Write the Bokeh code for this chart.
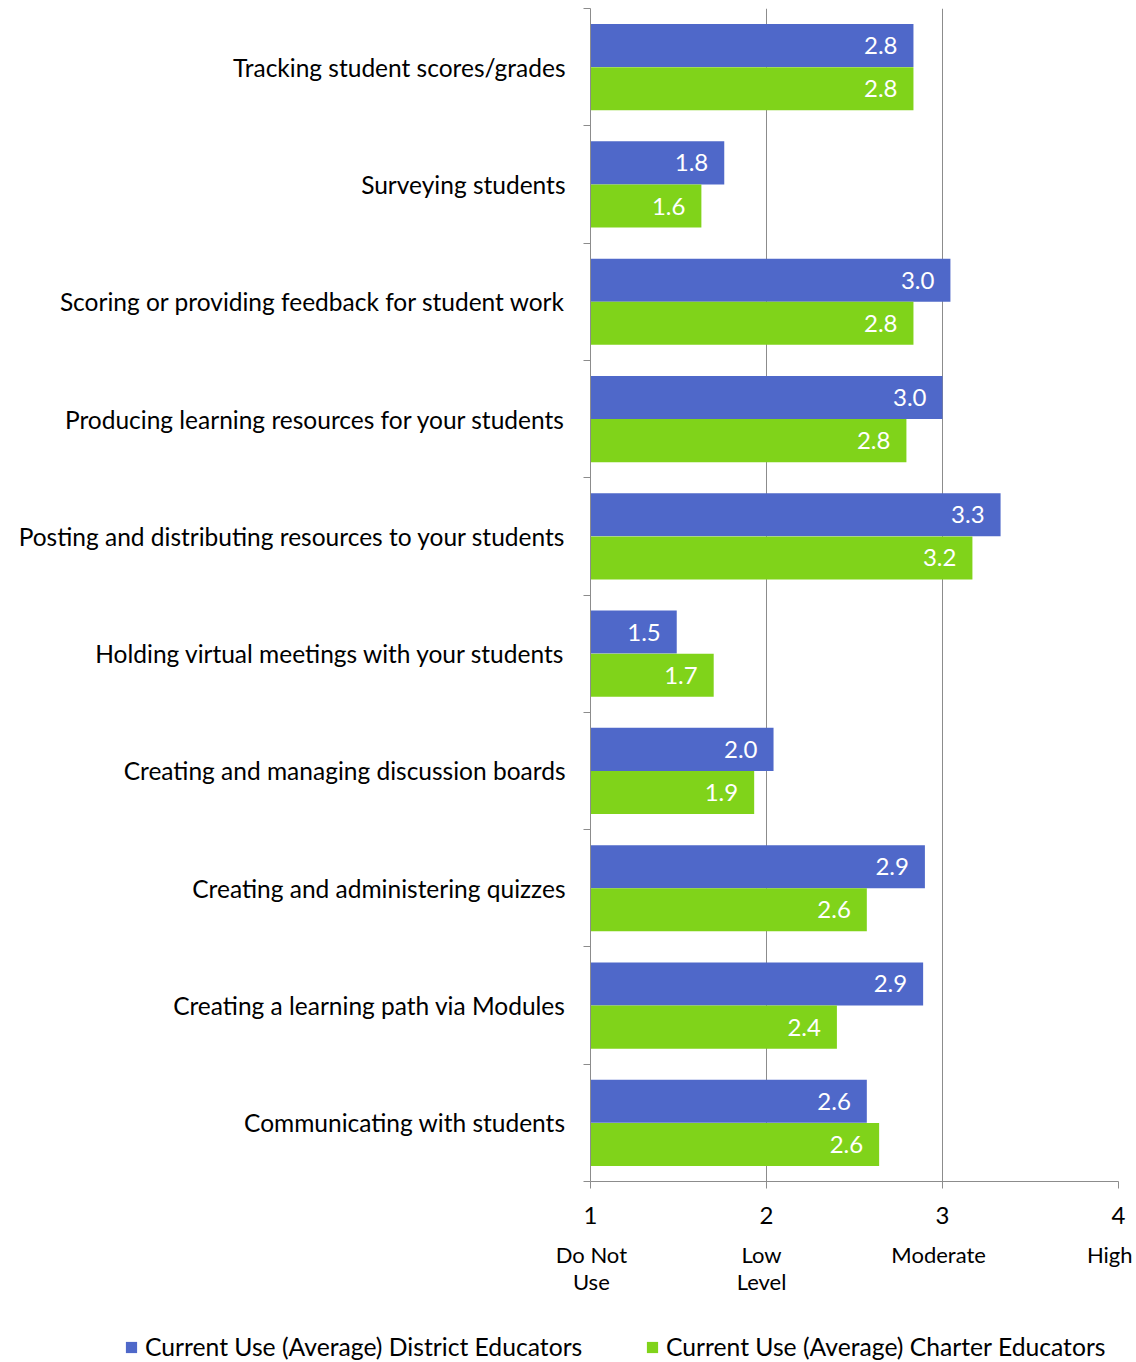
from bokeh.plotting import figure
from bokeh.models import (ColumnDataSource, Range1d, FixedTicker, LinearAxis, Legend, LegendItem)
from bokeh.core.properties import value
from bokeh.embed import file_html
from bokeh.resources import INLINE

categories = [
    "Tracking student scores/grades",
    "Surveying students",
    "Scoring or providing feedback for student work",
    "Producing learning resources for your students",
    "Posting and distributing resources to your students",
    "Holding virtual meetings with your students",
    "Creating and managing discussion boards",
    "Creating and administering quizzes",
    "Creating a learning path via Modules",
    "Communicating with students",
]
district = [2.835, 1.76, 3.045, 3.0, 3.33, 1.49, 2.04, 2.90, 2.89, 2.57]
charter = [2.835, 1.63, 2.835, 2.795, 3.17, 1.70, 1.93, 2.57, 2.40, 2.64]
district_labels = ["2.8", "1.8", "3.0", "3.0", "3.3", "1.5", "2.0", "2.9", "2.9", "2.6"]
charter_labels = ["2.8", "1.6", "2.8", "2.8", "3.2", "1.7", "1.9", "2.6", "2.4", "2.6"]
x_ticks = [1, 2, 3, 4]
x_sublabels = ["Do Not\nUse", "Low\nLevel", "Moderate", "High"]
series_names = ["Current Use (Average) District Educators", "Current Use (Average) Charter Educators"]

BLUE = "#4F68C9"
GREEN = "#80D31A"
FONT = "Lato"
GRID = "#8c8c8c"

n = len(categories)
centers = [n - i - 0.5 for i in range(n)]
off = 0.184
bh = 0.367

src_d = ColumnDataSource(dict(y=[c + off for c in centers], right=district, lab=district_labels))
src_c = ColumnDataSource(dict(y=[c - off for c in centers], right=charter, lab=charter_labels))

p = figure(width=1136, height=1320, output_backend="svg", toolbar_location=None,
           x_range=Range1d(1, 4), y_range=Range1d(0, n),
           min_border_left=590, min_border_right=18, min_border_top=8, min_border_bottom=139)
p.outline_line_color = None
p.background_fill_color = "white"
p.border_fill_color = "white"

r_d = p.hbar(y="y", left=1, right="right", height=bh, source=src_d, fill_color=BLUE, line_color=None)
r_c = p.hbar(y="y", left=1, right="right", height=bh, source=src_c, fill_color=GREEN, line_color=None)

for src in (src_d, src_c):
    p.text(x="right", y="y", text="lab", source=src, x_offset=-16, text_align="right",
           text_baseline="middle", text_color="white", text_font=value(FONT), text_font_size="24px")

# grid
p.ygrid.visible = False
p.xgrid.ticker = FixedTicker(ticks=[2, 3, 4])
p.xgrid.grid_line_color = GRID
p.xgrid.grid_line_width = 1

# x axis
xa = p.xaxis[0]
xa.ticker = FixedTicker(ticks=x_ticks)
xa.axis_line_color = GRID
xa.major_tick_line_color = GRID
xa.major_tick_out = 7
xa.major_tick_in = 0
xa.minor_tick_line_color = None
xa.major_label_text_font = FONT
xa.major_label_text_font_size = "24px"
xa.major_label_text_color = "black"
xa.major_label_standoff = 18

# second x axis with the scale descriptions
sub_ticks = [1.005, 1.972, 2.978, 3.95]
xa2 = LinearAxis(ticker=FixedTicker(ticks=sub_ticks),
                 major_label_overrides={t: s for t, s in zip(sub_ticks, x_sublabels)})
xa2.axis_line_color = None
xa2.major_tick_line_color = None
xa2.minor_tick_line_color = None
xa2.major_tick_out = 0
xa2.major_tick_in = 0
xa2.major_label_text_font = FONT
xa2.major_label_text_font_size = "22px"
xa2.major_label_text_color = "black"
xa2.major_label_text_line_height = 1.0
xa2.major_label_standoff = 14
p.add_layout(xa2, "below")

# y axis with labels at centers and ticks at boundaries
ya = p.yaxis[0]
ya.ticker = FixedTicker(ticks=centers, minor_ticks=list(range(n + 1)))
ya.major_label_overrides = {c: categories[i] for i, c in enumerate(centers)}
ya.major_tick_line_color = None
ya.major_tick_out = 0
ya.major_tick_in = 0
ya.minor_tick_line_color = GRID
ya.minor_tick_out = 7
ya.minor_tick_in = 0
ya.axis_line_color = GRID
ya.major_label_text_font = FONT
ya.major_label_text_font_size = "24.5px"
ya.major_label_text_color = "black"
ya.major_label_standoff = 18

# legend strip below the chart (separate root so frames are not aligned)
q = figure(width=1136, height=42, output_backend="svg", toolbar_location=None,
           x_axis_type=None, y_axis_type=None, x_range=Range1d(0, 1), y_range=Range1d(0, 1),
           min_border_left=0, min_border_right=0, min_border_top=0, min_border_bottom=0)
q.outline_line_color = None
q.xgrid.visible = False
q.ygrid.visible = False
# legend proxies: one bar each, kept outside the visible range of this strip
g_d = q.hbar(y=[-5], left=[0], right=[1], height=0.5, fill_color=BLUE, line_color=None)
g_c = q.hbar(y=[-5], left=[0], right=[1], height=0.5, fill_color=GREEN, line_color=None)
for r, name, loc in ((g_d, series_names[0], (124, 1)), (g_c, series_names[1], (645, 1))):
    lg = Legend(items=[LegendItem(label=name, renderers=[r])], location=loc,
                orientation="horizontal", glyph_width=14, glyph_height=14,
                label_text_font=FONT, label_text_font_size="24.7px", label_text_color="black",
                label_standoff=7, padding=0, margin=0, border_line_color=None,
                background_fill_alpha=0)
    q.add_layout(lg, "center")

open("out.html", "w").write(file_html([p, q], INLINE))
